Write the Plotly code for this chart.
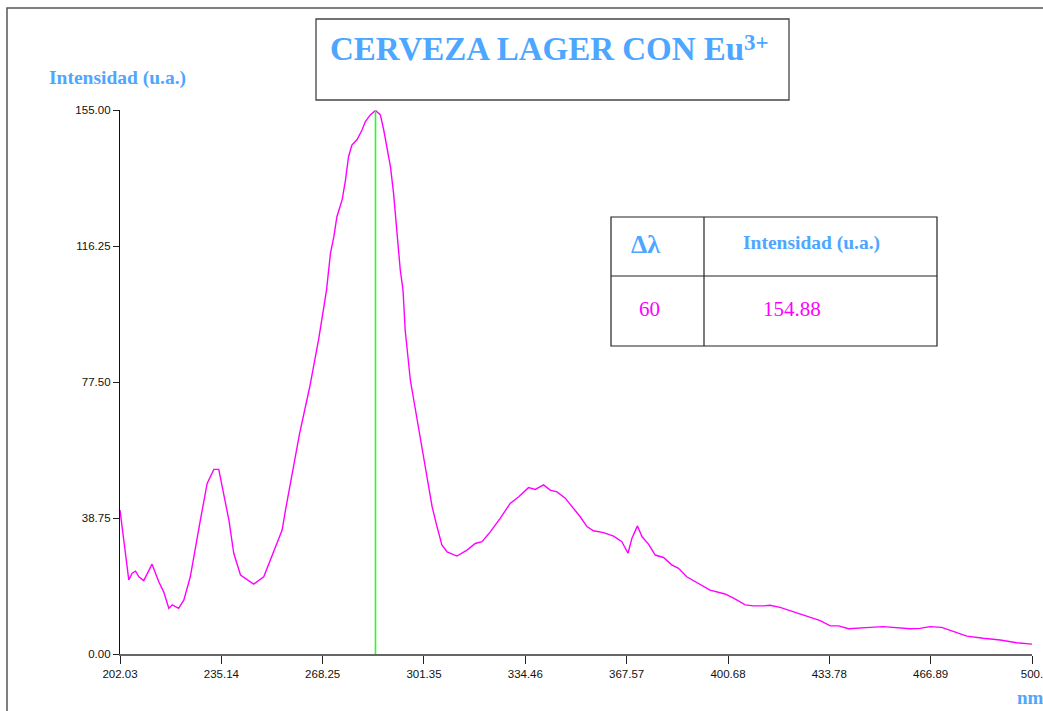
import plotly.graph_objects as go

# ---- data ----
wavelength = [202.03, 204.9, 206.0, 207.1, 208.2, 209.8, 212.5, 214.7, 216.3, 218.0, 219.1, 221.2,
              222.9, 225.0, 228.3, 230.5, 232.7, 234.3, 237.6, 239.2, 241.4, 245.7, 249.0, 252.3,
              255.0, 256.1, 258.3, 260.7, 264.0, 267.0, 269.5, 270.8, 271.9, 272.9, 274.6, 275.7,
              276.7, 277.8, 279.5, 281.1, 282.2, 283.8, 285.5, 287.1, 288.2, 289.3, 290.4, 291.4,
              292.5, 293.6, 294.5, 295.2, 296.9, 299.1, 300.7, 302.3, 304.0, 305.6, 307.2, 308.9,
              312.1, 315.4, 318.1, 320.3, 323.0, 326.3, 329.5, 332.3, 335.5, 337.7, 340.4, 342.6,
              344.8, 347.5, 350.2, 352.4, 354.6, 356.7, 360.0, 363.3, 366.0, 368.0, 369.3, 371.1,
              372.6, 374.7, 376.9, 379.6, 382.3, 384.5, 387.2, 391.6, 394.8, 399.7, 402.5, 406.3,
              409.0, 412.3, 414.4, 417.7, 422.1, 426.4, 430.8, 434.1, 436.8, 440.1, 443.3, 447.1,
              451.4, 455.8, 460.2, 463.4, 466.7, 470.5, 473.2, 478.7, 484.1, 489.6, 495.0, 500.0]
intensity = [41.0, 21.1, 23.0, 23.6, 22.0, 20.9, 25.6, 20.6, 17.7, 13.0, 14.0, 13.0,
             15.4, 22.0, 38.2, 48.6, 52.6, 52.6, 38.2, 28.7, 22.5, 19.9, 22.0, 29.1,
             35.3, 41.0, 51.9, 62.8, 76.0, 90.0, 103.7, 114.2, 118.9, 124.6, 129.4, 135.0,
             141.7, 145.0, 146.6, 149.3, 151.7, 153.6, 154.88, 153.6, 149.3, 144.5, 138.8, 131.3,
             120.8, 109.4, 103.7, 92.3, 78.0, 66.7, 58.1, 50.0, 42.0, 36.3, 31.1, 29.1,
             27.9, 29.6, 31.5, 32.0, 34.8, 38.7, 42.9, 44.8, 47.4, 46.9, 48.2, 46.7,
             46.2, 44.4, 41.5, 39.1, 36.3, 35.1, 34.6, 33.6, 32.0, 28.7, 33.0, 36.5,
             33.4, 31.3, 28.2, 27.5, 25.4, 24.4, 22.0, 19.7, 18.2, 17.1, 15.9, 14.0,
             13.7, 13.7, 13.9, 13.3, 12.0, 10.8, 9.5, 8.0, 8.0, 7.2, 7.3, 7.6,
             7.8, 7.6, 7.2, 7.3, 7.8, 7.6, 6.8, 5.1, 4.5, 4.0, 3.2, 2.8]

x_tick_labels = ["202.03", "235.14", "268.25", "301.35", "334.46", "367.57",
                 "400.68", "433.78", "466.89", "500."]
x_tick_values = [202.03, 235.14, 268.25, 301.35, 334.46, 367.57, 400.68, 433.78, 466.89, 500.0]
y_tick_values = [0, 38.75, 77.5, 116.25, 155.0]
y_tick_labels = ["0.00", "38.75", "77.50", "116.25", "155.00"]

peak_wavelength = 285.5
peak_intensity = 154.88
delta_lambda = 60

# ---- layout geometry (pixels) ----
W, H = 1043, 711
L, R, T, B = 120, 11, 110, 57
PW, PH = W - L - R, H - T - B

def px(x):
    return (x - L) / PW

def py(y):
    return (H - B - y) / PH

BLUE = "#4da6ff"
MAG = "#ff00ff"
SERIF = "Liberation Serif, Times New Roman, serif"
SANS = "Liberation Sans, Arial, sans-serif"

fig = go.Figure()
fig.add_trace(go.Scatter(x=wavelength, y=intensity, mode="lines",
                         line=dict(color=MAG, width=1.4), hoverinfo="skip"))
fig.add_trace(go.Scatter(x=[peak_wavelength, peak_wavelength], y=[0, 155], mode="lines",
                         line=dict(color="#22ff22", width=1.6), hoverinfo="skip"))

shapes = []
# outer frame
shapes.append(dict(type="rect", xref="paper", yref="paper",
                   x0=px(7), x1=px(1060), y0=py(8), y1=py(730),
                   line=dict(color="#555555", width=1.5), fillcolor="rgba(0,0,0,0)"))
# title box
shapes.append(dict(type="rect", xref="paper", yref="paper",
                   x0=px(316), x1=px(789), y0=py(19), y1=py(100),
                   line=dict(color="#444444", width=1.3), fillcolor="rgba(0,0,0,0)"))
# table
shapes.append(dict(type="rect", xref="paper", yref="paper",
                   x0=px(611), x1=px(937), y0=py(217), y1=py(346),
                   line=dict(color="#222222", width=1.2), fillcolor="white"))
shapes.append(dict(type="line", xref="paper", yref="paper",
                   x0=px(704), x1=px(704), y0=py(217), y1=py(346),
                   line=dict(color="#222222", width=1.2)))
shapes.append(dict(type="line", xref="paper", yref="paper",
                   x0=px(611), x1=px(937), y0=py(276), y1=py(276),
                   line=dict(color="#222222", width=1.2)))

annotations = [
    dict(text="<b>CERVEZA LAGER CON Eu</b>", x=px(328), y=py(49),
         xanchor="left", yanchor="middle",
         font=dict(family=SERIF, size=33, color=BLUE)),
    dict(text="<b>3+</b>", x=px(742), y=py(42),
         xanchor="left", yanchor="middle",
         font=dict(family=SERIF, size=23, color=BLUE)),
    dict(text="<b>Intensidad (u.a.)</b>", x=px(47), y=py(78),
         xanchor="left", yanchor="middle",
         font=dict(family=SERIF, size=19.5, color=BLUE)),
    dict(text="<b>nm</b>", x=px(1015), y=py(697),
         xanchor="left", yanchor="middle",
         font=dict(family=SERIF, size=19, color=BLUE)),
    dict(text="<b>Δλ</b>", x=px(645), y=py(244),
         xanchor="center", yanchor="middle",
         font=dict(family=SERIF, size=26, color=BLUE)),
    dict(text="<b>Intensidad (u.a.)</b>", x=px(811), y=py(243),
         xanchor="center", yanchor="middle",
         font=dict(family=SERIF, size=19.5, color=BLUE)),
    dict(text=str(delta_lambda), x=px(649), y=py(309),
         xanchor="center", yanchor="middle",
         font=dict(family=SERIF, size=21, color=MAG)),
    dict(text=f"{peak_intensity:.2f}", x=px(792), y=py(309),
         xanchor="center", yanchor="middle",
         font=dict(family=SERIF, size=21, color=MAG)),
]
for a in annotations:
    a.update(xref="paper", yref="paper", showarrow=False)

fig.update_layout(
    width=W, height=H,
    margin=dict(l=L, r=R, t=T, b=B, pad=0, autoexpand=False),
    paper_bgcolor="white", plot_bgcolor="white",
    showlegend=False,
    shapes=shapes, annotations=annotations,
    xaxis=dict(range=[202.03, 500.0], tickmode="array", tickvals=x_tick_values,
               ticktext=x_tick_labels, showgrid=False, zeroline=False, automargin=False,
               ticklabeloverflow="allow",
               showline=True, linecolor="#666666", linewidth=1.5,
               ticks="outside", ticklen=8, tickcolor="#222222", tickwidth=1,
               tickfont=dict(family=SANS, size=11.5, color="#111111")),
    yaxis=dict(range=[0, 155], tickmode="array", tickvals=y_tick_values,
               ticktext=y_tick_labels, showgrid=False, zeroline=False, automargin=False,
               ticklabeloverflow="allow",
               showline=True, linecolor="#111111", linewidth=1.3,
               ticks="outside", ticklen=6, tickcolor="#222222", tickwidth=1,
               tickfont=dict(family=SANS, size=11.5, color="#111111")),
)

fig.write_html("out.html")
